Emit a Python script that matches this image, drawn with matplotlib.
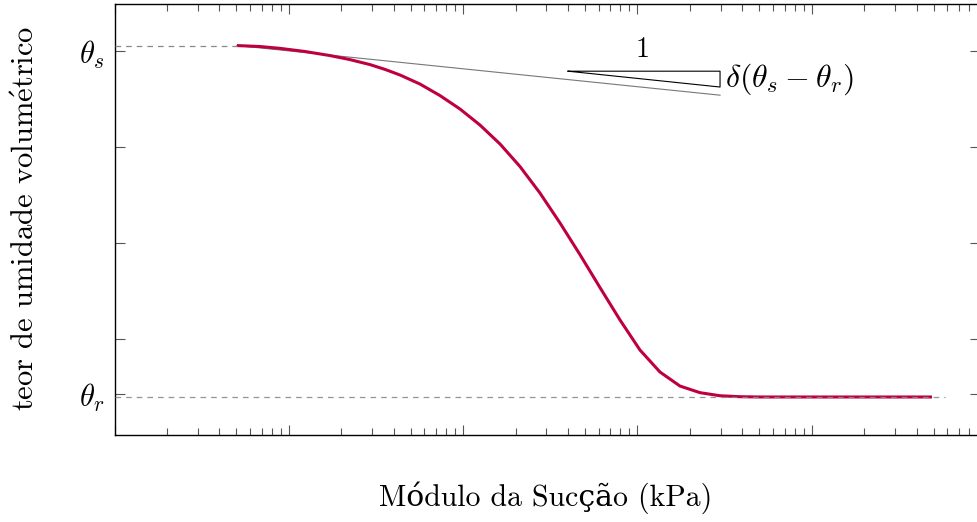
import matplotlib
matplotlib.use('Agg')
import matplotlib.pyplot as plt

# curve: suction (kPa) vs volumetric water content
suction = [0.504, 0.684, 0.890, 1.24, 1.72, 2.24, 2.92, 3.56, 4.35, 5.66, 7.37,
           9.60, 12.5, 16.3, 21.2, 27.6, 36.0, 46.8, 61.0, 79.5, 103.5, 134.8,
           175.5, 228.6, 297.8, 387.8, 505, 1116, 4900]
theta = [0.4057, 0.4047, 0.4028, 0.3995, 0.3953, 0.3911, 0.3859, 0.3809, 0.3750,
         0.3656, 0.3536, 0.3396, 0.3229, 0.3031, 0.2797, 0.2521, 0.2208, 0.1880,
         0.1536, 0.1198, 0.0885, 0.0656, 0.0510, 0.0441, 0.0409, 0.0399, 0.0396,
         0.0396, 0.0396]

theta_s = 0.4057
theta_r = 0.0396
x_min, x_max = 0.1, 9240
r_dash_end = 5820

# tangent line and slope triangle
tang_x = [0.504, 298]
tang_y = [0.4057, 0.354]
tri_x = [40.0, 298, 298, 40.0]
tri_y = [0.379, 0.379, 0.3625, 0.379]

yticks = [theta_r + 0.003, 0.1, 0.2, 0.3, 0.4]
ytick_labels = [r'$\theta_r$', '', '', '', r'$\theta_s$']

plt.rcParams['font.family'] = ['cmr10', 'DejaVu Serif']
plt.rcParams['mathtext.fontset'] = 'cm'
plt.rcParams['axes.unicode_minus'] = False

fig = plt.figure(figsize=(9.77, 5.22), dpi=100)
ax = fig.add_axes([114.5 / 977, 1 - 435 / 522, (980 - 114.5) / 977, (435 - 4) / 522])

ax.plot(suction, theta, color='#BF0040', lw=2.2, zorder=3, solid_capstyle='butt')
ax.plot([x_min, suction[0]], [theta_s, theta_s], color='#888888', lw=0.9,
        dashes=(4.5, 4), zorder=4)
ax.plot([x_min, r_dash_end], [theta_r, theta_r], color='#888888', lw=0.9,
        dashes=(4.5, 4), zorder=4, alpha=0.9)
ax.plot(tang_x, tang_y, color='#777777', lw=0.8, zorder=2)
ax.plot(tri_x, tri_y, color='black', lw=0.8, zorder=2)

ax.text(107.6, 0.401, '1', fontsize=20, ha='center', va='center')
ax.text(318, 0.3708, r'$\delta(\theta_s - \theta_r)$', fontsize=23,
        ha='left', va='center')

ax.set_xscale('log')
ax.set_xlim(x_min, x_max)
ax.set_ylim(0, 0.449)
ax.set_yticks(yticks)
ax.set_yticklabels(ytick_labels, fontsize=22)
ax.xaxis.set_major_formatter(plt.NullFormatter())
ax.xaxis.set_minor_formatter(plt.NullFormatter())
ax.tick_params(which='both', direction='in', top=True, right=True,
               color='#555555', width=0.8)
ax.tick_params(which='major', length=7.5, pad=7)
ax.tick_params(which='minor', length=4.8)
for sp in ax.spines.values():
    sp.set_linewidth(1.0)

# cmr10 has no accented letters; those fall back to DejaVu Serif,
# except the e-acute on the y label which goes through mathtext
ax.set_xlabel('Módulo da Sucção (kPa)', fontsize=21.5)
ax.set_ylabel(r'teor de umidade volum$\acute{\mathrm{e}}$trico', fontsize=22)
ax.xaxis.set_label_coords(0.4986, -(481 - 435) / 431)
ax.yaxis.set_label_coords(-(114.5 - 40) / 865.5, (435 - 218) / 431)

fig.savefig('out.png', dpi=100)
